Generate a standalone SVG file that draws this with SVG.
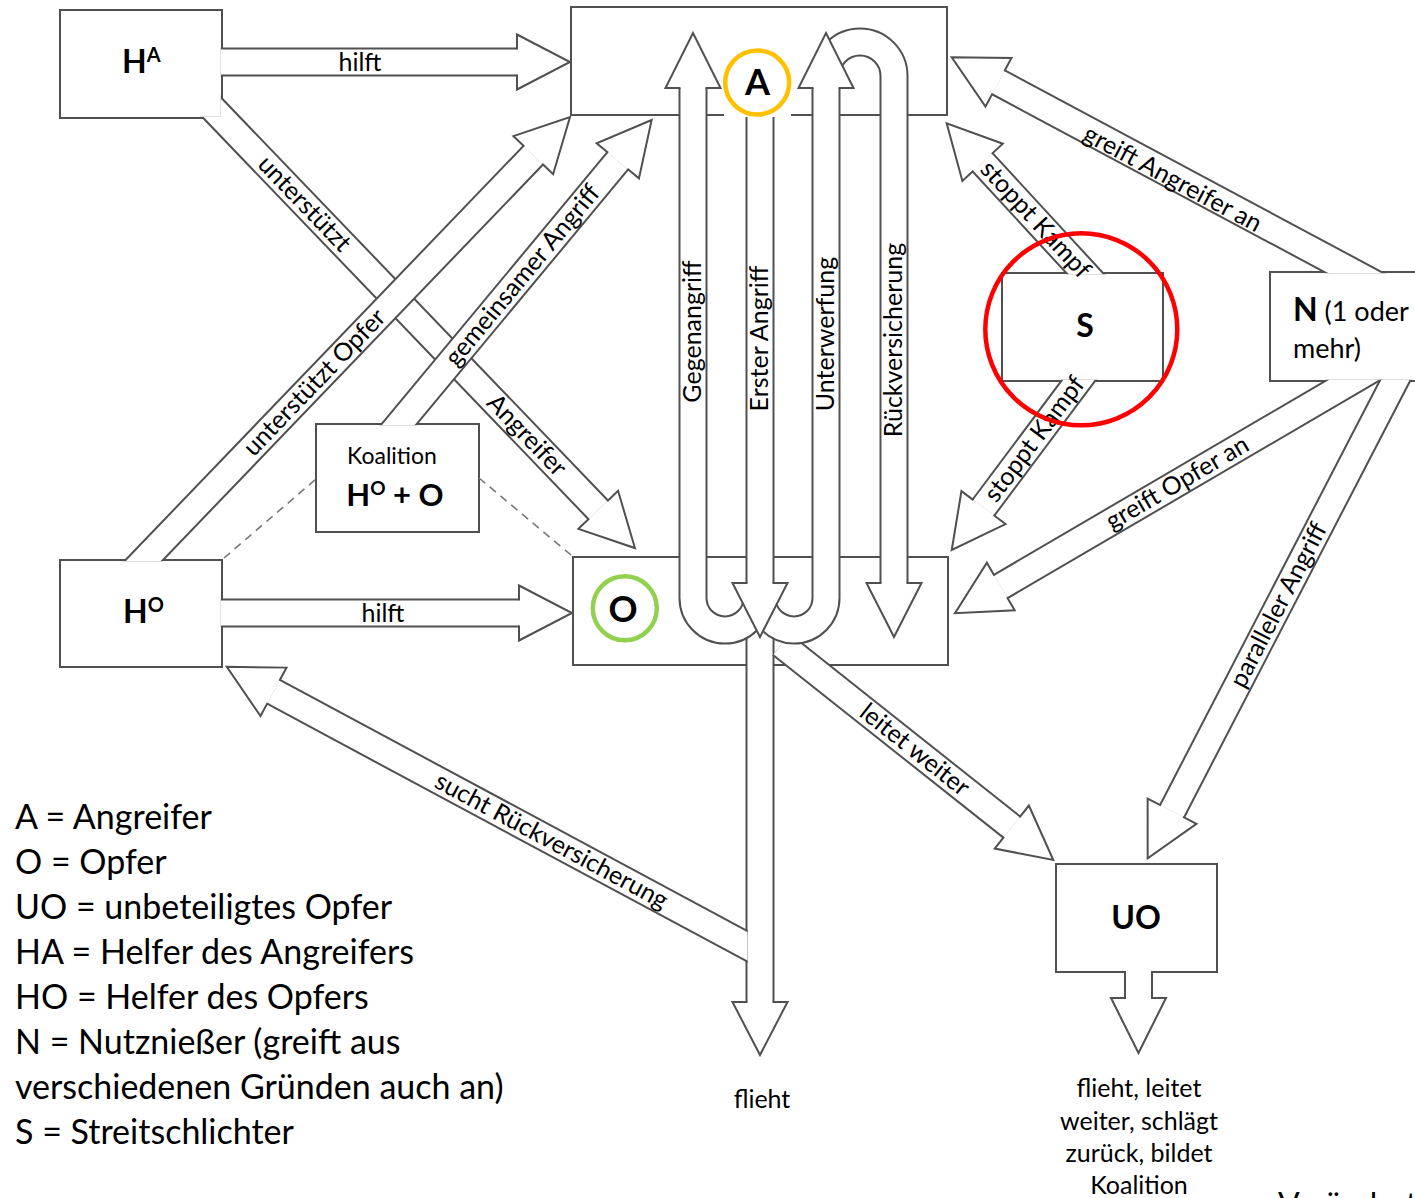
<svg xmlns="http://www.w3.org/2000/svg" width="1415" height="1198" viewBox="0 0 1415 1198">
<defs>
<style>
.bx{fill:#fff;stroke:#505050;stroke-width:2}
.so{fill:none;stroke:#505050;stroke-width:29}
.si{fill:none;stroke:#fff;stroke-width:25}
.hd{fill:#fff;stroke:#505050;stroke-width:2;stroke-linejoin:miter}
.ds{fill:none;stroke:#777;stroke-width:1.6;stroke-dasharray:8 6}
text{font-family:Lato,"Liberation Sans",sans-serif;fill:#000}
.lb{font-size:25px;text-anchor:middle}
.lg{font-size:34px}
.nb{font-weight:700}
</style>
<clipPath id="cHA"><path clip-rule="evenodd" d="M-10,-10H1500V1300H-10Z M61.2,11.2V116.8H220.8V11.2Z"/></clipPath>
<clipPath id="cHO"><path clip-rule="evenodd" d="M-10,-10H1500V1300H-10Z M61.2,561.2V665.8H220.8V561.2Z"/></clipPath>
<clipPath id="cKO"><path clip-rule="evenodd" d="M-10,-10H1500V1300H-10Z M317.2,425.2V530.8H477.8V425.2Z"/></clipPath>
<clipPath id="cS"><path clip-rule="evenodd" d="M-10,-10H1500V1300H-10Z M1003.2,274.2V379.8H1161.8V274.2Z"/></clipPath>
<clipPath id="cN"><path clip-rule="evenodd" d="M-10,-10H1500V1300H-10Z M1271.2,273.2V379.8H1460V273.2Z"/></clipPath>
<clipPath id="cFL"><rect x="0" y="0" width="747.6" height="1198"/></clipPath>
</defs>
<rect x="0" y="0" width="1415" height="1198" fill="#fff"/>

<g id="node-HA">
<rect class="bx" x="60" y="10" width="162" height="108"/>
<text class="nb" x="122" y="73" font-size="32">H<tspan font-size="20" dy="-11">A</tspan></text>
</g>
<g id="node-HO">
<rect class="bx" x="60" y="560" width="162" height="107"/>
<text class="nb" x="123" y="623" font-size="32">H<tspan font-size="20" dy="-11">O</tspan></text>
</g>
<g id="node-Koalition">
<rect class="bx" x="316" y="424" width="163" height="108"/>
<text x="392" y="464" font-size="23" text-anchor="middle">Koalition</text>
<text class="nb" x="395" y="506" font-size="31" text-anchor="middle">H<tspan font-size="19" dy="-11">O</tspan><tspan dy="11"> + O</tspan></text>
</g>
<g id="node-A">
<rect class="bx" x="571" y="7" width="376" height="108"/>
<rect x="724" y="100" width="67" height="17" fill="#fff"/>
<circle cx="757.2" cy="82.5" r="32" fill="#fff" stroke="#FFC000" stroke-width="4.5"/>
<text class="nb" x="757.5" y="94.5" font-size="36" text-anchor="middle">A</text>
</g>
<g id="node-O">
<rect class="bx" x="573" y="557" width="375" height="108"/>
<circle cx="624.8" cy="608.3" r="32" fill="#fff" stroke="#92D050" stroke-width="4.5"/>
<text class="nb" x="623" y="621.5" font-size="36" text-anchor="middle">O</text>
</g>
<g id="node-S">
<rect class="bx" x="1002" y="273" width="161" height="108"/>
<text class="nb" x="1085" y="337" font-size="32" text-anchor="middle">S</text>
</g>
<g id="node-N">
<rect class="bx" x="1270" y="272" width="170" height="109"/>
<text x="1293" y="321" font-size="27"><tspan class="nb" font-size="32">N</tspan> (1 oder</text>
<text x="1293" y="358" font-size="27">mehr)</text>
</g>
<g id="node-UO">
<rect class="bx" x="1056" y="864" width="161" height="108"/>
<text class="nb" x="1136" y="928.5" font-size="32" text-anchor="middle">UO</text>
</g>

<g id="connectors">
<g clip-path="url(#cHA)"><g transform="translate(215,62)"><path class="so" d="M0,0H302"/><path class="si" d="M0,0H302"/><path class="hd" d="M302,-12.5V-27.5L355,0L302,27.5V12.5"/></g></g>
<g clip-path="url(#cHO)"><g transform="translate(215,613)"><path class="so" d="M0,0H304"/><path class="si" d="M0,0H304"/><path class="hd" d="M304,-12.5V-27.5L357,0L304,27.5V12.5"/></g></g>
<g clip-path="url(#cHA)"><g transform="translate(201.2,96.4) rotate(46.16)"><path class="so" d="M0,0H573.2"/><path class="si" d="M0,0H573.2"/><path class="hd" d="M573.2,-12.5V-27.5L626.2,0L573.2,27.5V12.5"/></g></g>
<g clip-path="url(#cHO)"><g transform="translate(123.5,581.6) rotate(-46.14)"><path class="so" d="M0,0H591.4"/><path class="si" d="M0,0H591.4"/><path class="hd" d="M591.4,-12.5V-27.5L644.4,0L591.4,27.5V12.5"/></g></g>
<g clip-path="url(#cKO)"><g transform="translate(380.1,447.1) rotate(-50.30)"><path class="so" d="M0,0H372.1"/><path class="si" d="M0,0H372.1"/><path class="hd" d="M372.1,-12.5V-27.5L425.1,0L372.1,27.5V12.5"/></g></g>
<g clip-path="url(#cS)"><g transform="translate(1105.3,295.4) rotate(-132.68)"><path class="so" d="M0,0H181"/><path class="si" d="M0,0H181"/><path class="hd" d="M181,-12.5V-27.5L234,0L181,27.5V12.5"/></g></g>
<g clip-path="url(#cS)"><g transform="translate(1096.3,356.7) rotate(126.79)"><path class="so" d="M0,0H188.4"/><path class="si" d="M0,0H188.4"/><path class="hd" d="M188.4,-12.5V-27.5L241.4,0L188.4,27.5V12.5"/></g></g>
<g clip-path="url(#cN)"><g transform="translate(1388.8,291.2) rotate(-151.85)"><path class="so" d="M0,0H442.7"/><path class="si" d="M0,0H442.7"/><path class="hd" d="M442.7,-12.5V-27.5L495.7,0L442.7,27.5V12.5"/></g></g>
<g clip-path="url(#cN)"><g transform="translate(1387,360.5) rotate(149.67)"><path class="so" d="M0,0H447.5"/><path class="si" d="M0,0H447.5"/><path class="hd" d="M447.5,-12.5V-27.5L500.5,0L447.5,27.5V12.5"/></g></g>
<g clip-path="url(#cN)"><g transform="translate(1413.4,345.2) rotate(117.38)"><path class="so" d="M0,0H524.8"/><path class="si" d="M0,0H524.8"/><path class="hd" d="M524.8,-12.5V-27.5L577.8,0L524.8,27.5V12.5"/></g></g>
<path class="so" d="M1138.5,971V998"/><path class="si" d="M1138.5,971V998"/>
<path class="hd" d="M1151,998H1166L1138.5,1053L1111,998H1126"/>
<path class="ds" d="M224,558L316,479"/>
<path class="ds" d="M479,478L571,555"/>
<path class="so" d="M760,625V1002"/><path class="si" d="M760,625V1002"/>
<path class="hd" d="M772.5,1002H787.5L760,1055L732.5,1002H747.5"/>
<g clip-path="url(#cFL)"><g transform="translate(764.6,955.5) rotate(-151.77)"><path class="so" d="M0,0H557.4"/><path class="si" d="M0,0H557.4"/><path class="hd" d="M557.4,-12.5V-27.5L610.4,0L557.4,27.5V12.5"/></g></g>
<g transform="translate(781.4,644.4) rotate(38.41)"><path class="so" d="M0,0H294"/><path class="si" d="M0,0H294"/><path class="hd" d="M294,-12.5V-27.5L347,0L294,27.5V12.5"/></g>
<path class="so" d="M693,88V598A32,32 0 0 0 757,598"/><path class="si" d="M693,88V598A32,32 0 0 0 757,598"/>
<path class="so" d="M826,88V598A32,32 0 0 1 762,598"/><path class="si" d="M826,88V598A32,32 0 0 1 762,598"/>
<path class="so" d="M826,88V76A34,34 0 0 1 894,76V583"/><path class="si" d="M826,88V76A34,34 0 0 1 894,76V583"/>
<path class="hd" d="M906.5,583H921.5L894,637L866.5,583H881.5"/>
<path class="so" d="M760,117V583"/><path class="si" d="M760,117V583"/>
<path class="hd" d="M772.5,583H787.5L760,637L732.5,583H747.5"/>
<path class="hd" d="M705.5,88H720.5L693,33L665.5,88H680.5"/>
<path class="hd" d="M838.5,88H853.5L826,33L798.5,88H813.5"/>

<text class="lb" x="360" y="71">hilft</text>
<text class="lb" x="383" y="622">hilft</text>
<g transform="translate(201.2,96.4) rotate(46.16)"><text class="lb" x="149" y="8">unterstützt</text><text class="lb" x="470" y="8">Angreifer</text></g>
<g transform="translate(123.5,581.6) rotate(-46.14)"><text class="lb" x="276" y="8">unterstützt Opfer</text></g>
<g transform="translate(380.1,447.1) rotate(-50.30)"><text class="lb" x="223" y="8">gemeinsamer Angriff</text></g>
<g transform="translate(1105.3,295.4) rotate(-132.68)"><text class="lb" transform="translate(103,0) rotate(180)" y="8">stoppt Kampf</text></g>
<g transform="translate(1096.3,356.7) rotate(126.79)"><text class="lb" transform="translate(103,0) rotate(180)" y="8">stoppt Kampf</text></g>
<g transform="translate(1388.8,291.2) rotate(-151.85)"><text class="lb" transform="translate(243.6,-3) rotate(180)" y="8">greift Angreifer an</text></g>
<g transform="translate(1387,360.5) rotate(149.67)"><text class="lb" transform="translate(242.8,0) rotate(180)" y="8">greift Opfer an</text></g>
<g transform="translate(1413.4,345.2) rotate(117.38)"><text class="lb" transform="translate(292.8,0) rotate(180)" y="8">paralleler Angriff</text></g>
<g transform="translate(764.6,955.5) rotate(-151.77)"><text class="lb" transform="translate(242,0) rotate(180)" y="8">sucht Rückversicherung</text></g>
<g transform="translate(781.4,644.4) rotate(38.41)"><text class="lb" x="170" y="8">leitet weiter</text></g>
<text class="lb" transform="translate(693,331.5) rotate(-90)" y="8">Gegenangriff</text>
<text class="lb" transform="translate(760,338.5) rotate(-90)" y="8">Erster Angriff</text>
<text class="lb" transform="translate(826,334) rotate(-90)" y="8">Unterwerfung</text>
<text class="lb" transform="translate(894,340) rotate(-90)" y="8">Rückversicherung</text>
<text class="lb" x="762" y="1108">flieht</text>
<text class="lb" x="1139" y="1097">flieht, leitet</text>
<text class="lb" x="1139" y="1130">weiter, schlägt</text>
<text class="lb" x="1139" y="1162">zurück, bildet</text>
<text class="lb" x="1139" y="1194">Koalition</text>
</g>

<g id="node-S-highlight">
<circle cx="1081.3" cy="329.3" r="96" fill="none" stroke="#FF0000" stroke-width="4.5"/>
</g>

<g id="legend">
<text class="lg" x="15" y="829">A = Angreifer</text>
<text class="lg" x="15" y="874">O = Opfer</text>
<text class="lg" x="15" y="919">UO = unbeteiligtes Opfer</text>
<text class="lg" x="15" y="964">HA = Helfer des Angreifers</text>
<text class="lg" x="15" y="1009">HO = Helfer des Opfers</text>
<text class="lg" x="15" y="1054">N = Nutznießer (greift aus</text>
<text class="lg" x="15" y="1099">verschiedenen Gründen auch an)</text>
<text class="lg" x="15" y="1144">S = Streitschlichter</text>
</g>
<g id="credit">
<text x="1278" y="1216" font-size="32">Verändert</text>
</g>
</svg>
